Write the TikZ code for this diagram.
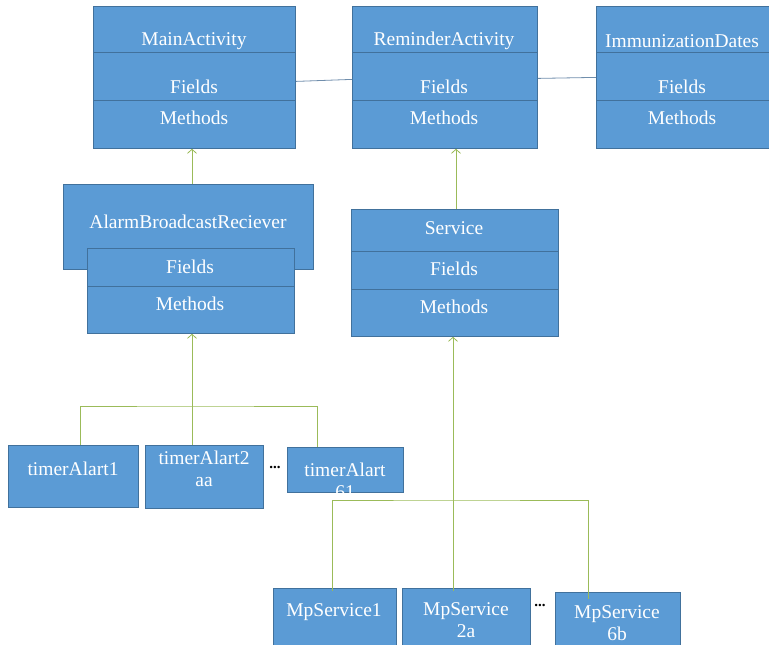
\documentclass[tikz,border=0pt]{standalone}
\usepackage{fontspec}
\setmainfont{Liberation Serif}
\newfontfamily\clsfont{Liberation Serif}
\usepackage{tikz}
\usetikzlibrary{arrows.meta}
\usetikzlibrary{calc}

\definecolor{boxblue}{RGB}{91,155,213}
\definecolor{boxline}{RGB}{65,113,156}
\definecolor{arrgreen}{RGB}{155,187,89}
\definecolor{linkgray}{RGB}{112,142,172}

\begin{document}
\begin{tikzpicture}
	[x=1pt, y=-1pt,
	 part/.style={draw=boxline, fill=boxblue, line width=0.8pt, anchor=north west, inner sep=0pt},
	 lbl/.style={text=white, font=\clsfont\fontsize{19.5}{22}\selectfont, align=center, inner sep=0pt},
	 inherit/.style={draw=arrgreen, line width=0.8pt, -{Straight Barb[length=4pt,width=9pt]}},
	 branch/.style={draw=arrgreen, line width=0.8pt},
	 link/.style={draw=linkgray, line width=0.8pt},
	 dots/.style={font=\clsfont\fontsize{15}{15}\bfseries\selectfont, inner sep=0pt}]
	\useasboundingbox (0,0) rectangle (769,645);
	\clip (0,0) rectangle (769,645);

	% top row
	\node[part, minimum width=202, minimum height=46] (mainT) at (93,6) {};
	\node[part, minimum width=202, minimum height=48] (mainF) at (93,52) {};
	\node[part, minimum width=202, minimum height=48] (mainM) at (93,100) {};
	\node[lbl] (mainTL) at (194,41) {MainActivity};
	\node[lbl] (mainFL) at (194,87) {Fields};
	\node[lbl] (mainML) at (194,118) {Methods};

	\node[part, minimum width=185, minimum height=46] (remT) at (352,6) {};
	\node[part, minimum width=185, minimum height=48] (remF) at (352,52) {};
	\node[part, minimum width=185, minimum height=48] (remM) at (352,100) {};
	\node[lbl] (remTL) at (444,41) {ReminderActivity};
	\node[lbl] (remFL) at (444,87) {Fields};
	\node[lbl] (remML) at (444,118) {Methods};

	\node[part, minimum width=174, minimum height=46] (immT) at (596,6) {};
	\node[part, minimum width=174, minimum height=48] (immF) at (596,52) {};
	\node[part, minimum width=174, minimum height=48] (immM) at (596,100) {};
	\node[lbl] (immTL) at (682,41) {ImmunizationDates};
	\node[lbl] (immFL) at (682,87) {Fields};
	\node[lbl] (immML) at (682,118) {Methods};

	\draw[link] ([yshift=-5]mainF.east) -- ([yshift=-3]remF.west);
	\draw[link] ([yshift=-2]remF.east) -- ([yshift=-1]immF.west);

	% middle row
	\node[part, minimum width=250, minimum height=85] (alarmT) at (63,184) {};
	\node[part, minimum width=207, minimum height=38] (alarmF) at (87,248) {};
	\node[part, minimum width=207, minimum height=47] (alarmM) at (87,286) {};
	\node[lbl] (alarmTL) at (188,222) {AlarmBroadcastReciever};
	\node[lbl] (alarmFL) at (190,267) {Fields};
	\node[lbl] (alarmML) at (190,304) {Methods};

	\node[part, minimum width=207, minimum height=42] (servT) at (351,209) {};
	\node[part, minimum width=207, minimum height=38] (servF) at (351,251) {};
	\node[part, minimum width=207, minimum height=47] (servM) at (351,289) {};
	\node[lbl] (servTL) at (454,228) {Service};
	\node[lbl] (servFL) at (454,269) {Fields};
	\node[lbl] (servML) at (454,307) {Methods};

	\draw[inherit] (alarmT.north -| 192,0) -- (mainM.south -| 192,0);
	\draw[inherit] (servT.north -| 456,0) -- (remM.south -| 456,0);

	% timer alarms
	\node[part, minimum width=130, minimum height=62] (timer1) at (8,445) {};
	\node[lbl] (timer1L) at (73,469) {timerAlart1};
	\node[part, minimum width=118, minimum height=63] (timer2) at (145,445) {};
	\node[lbl] (timer2L) at (204,469) {timerAlart2\\aa};
	\node[dots] (timerDots) at (275,467) {...};
	\node[part, minimum width=116, minimum height=45] (timer3) at (287,447) {};
	\begin{scope}
		\clip (timer3.north west) rectangle (timer3.south east);
		\node[lbl] (timer3L) at (345,481) {timerAlart\\61};
	\end{scope}

	\coordinate (alarmJoin) at (192,406);
	\draw[branch] (timer1.north -| 80,0) |- (alarmJoin) -| (timer3.north -| 317,0);
	\draw[inherit] (timer2.north -| alarmJoin) -- (alarmM.south -| alarmJoin);

	% mp services
	\node[part, minimum width=123, minimum height=70] (mp1) at (273,588) {};
	\node[lbl] (mp1L) at (334,612) {MpService1};
	\node[part, minimum width=128, minimum height=70] (mp2) at (402,588) {};
	\node[lbl] (mp2L) at (466,620) {MpService\\2a};
	\node[dots] (mpDots) at (540,605) {...};
	\node[part, minimum width=125, minimum height=70] (mp3) at (555,592) {};
	\node[lbl] (mp3L) at (617,623) {MpService\\6b};

	\coordinate (servJoin) at (453,500);
	\draw[branch] ([yshift=-3]mp1.north -| 332,0) |- (servJoin) -| ([yshift=-7]mp3.north -| 588,0);
	\draw[inherit] ([yshift=-3]mp2.north -| servJoin) -- (servM.south -| servJoin);
\end{tikzpicture}
\end{document}
